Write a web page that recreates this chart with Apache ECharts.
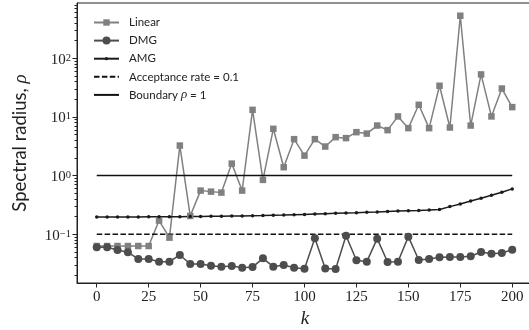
<!DOCTYPE html>
<html><head><meta charset="utf-8">
<script src="https://cdn.jsdelivr.net/npm/echarts@6/dist/echarts.min.js"></script>
<style>html,body{margin:0;padding:0;background:#fff}#c{width:529px;height:330px}</style>
</head><body><div id="c"></div>
<script>
const kValues = [0,5,10,15,20,25,30,35,40,45,50,55,60,65,70,75,80,85,90,95,100,105,110,115,120,125,130,135,140,145,150,155,160,165,170,175,180,185,190,195,200];
const linear = [0.063,0.063,0.063,0.063,0.063,0.063,0.171,0.0875,3.25,0.205,0.555,0.533,0.513,1.6,0.555,13.2,0.845,6.27,1.39,4.18,2.19,4.18,3.13,4.52,4.35,5.5,5.2,7.13,5.95,10.2,6.44,16.1,6.44,34,6.6,531,7.13,53,10.2,30.5,14.7];
const dmg = [0.060,0.060,0.054,0.0493,0.0379,0.0379,0.0341,0.0341,0.0443,0.0311,0.0311,0.0291,0.028,0.0288,0.0269,0.0276,0.0389,0.028,0.0299,0.0269,0.0259,0.0855,0.026,0.0255,0.0946,0.036,0.0341,0.0841,0.0337,0.034,0.091,0.0364,0.0379,0.0405,0.041,0.041,0.0421,0.0499,0.0467,0.048,0.0546];
const amg = [0.196,0.196,0.197,0.197,0.197,0.198,0.198,0.199,0.199,0.200,0.201,0.202,0.203,0.204,0.205,0.207,0.208,0.210,0.212,0.215,0.218,0.221,0.224,0.227,0.230,0.233,0.237,0.240,0.245,0.249,0.252,0.255,0.259,0.265,0.296,0.329,0.37,0.411,0.463,0.52,0.593];
const acceptanceRate = 0.1;
const boundaryRho = 1;
const refRange = [0, 200];
const xTicks = [0,25,50,75,100,125,150,175,200];
const yTicks = [0.1,1,10,100];
const yMinorTicks = [0.02,0.03,0.04,0.05,0.06,0.07,0.08,0.09,0.2,0.3,0.4,0.5,0.6,0.7,0.8,0.9,2,3,4,5,6,7,8,9,20,30,40,50,60,70,80,90,200,300,400,500,600,700,800];
const seriesNames = ['Linear','DMG','AMG','Acceptance rate = 0.1','Boundary ρ = 1'];

const pair = (ys) => kValues.map((k, i) => [k, ys[i]]);
const SERIF = '"Liberation Serif","DejaVu Serif",serif';
const SANS = 'Lato,"Liberation Sans",sans-serif';
const yMin = 0.01476, yMax = 875;

const chart = echarts.init(document.getElementById('c'), null, {renderer: 'canvas'});
const legendTops = [20, 38.1, 56.2, 74.3, 92.4];
const legendHeights = [8, 10, 4, 8, 8];
const legends = seriesNames.map((n, i) => ({
  data: [n], orient: 'vertical', left: 88, top: legendTops[i] - 9.5,
  itemWidth: 25, itemHeight: legendHeights[i], selectedMode: false,
  itemStyle: i >= 3 ? {opacity: 0} : {},
  textStyle: {fontFamily: SANS, fontSize: 11.5, color: '#222', lineHeight: 14, padding: [0,0,0,5],
    rich: {i: {fontFamily: SERIF, fontStyle: 'italic', fontSize: 13, color: '#222'}}},
  formatter: (name) => name.replace('ρ', '{i|ρ}')
}));

chart.setOption({
  animation: false,
  backgroundColor: '#fff',
  grid: {left: 77, top: 3, bottom: 47, right: -4, outerBoundsMode: 'none', containLabel: false,
         show: true, borderColor: '#222', borderWidth: 1, backgroundColor: 'transparent'},
  legend: legends,
  xAxis: {
    type: 'value', min: -9.5, max: 210,
    name: 'k', nameLocation: 'middle', nameGap: 24,
    nameTextStyle: {fontFamily: SERIF, fontStyle: 'italic', fontSize: 19, color: '#222'},
    axisLine: {onZero: false, lineStyle: {color: '#222', width: 1}},
    axisTick: {customValues: xTicks, length: 4.5, lineStyle: {color: '#222'}},
    axisLabel: {customValues: xTicks, margin: 7, fontFamily: SERIF, fontSize: 15, color: '#222'},
    splitLine: {show: false}
  },
  yAxis: [{
    type: 'log', logBase: 10, min: yMin, max: yMax,
    name: 'Spectral radius, {i|ρ}', nameLocation: 'middle', nameGap: 47, nameRotate: 90,
    nameTextStyle: {fontFamily: SANS, fontSize: 18.5, color: '#222',
      rich: {i: {fontFamily: SERIF, fontStyle: 'italic', fontSize: 19, color: '#222'}}},
    axisLine: {show: true, onZero: false, lineStyle: {color: '#222', width: 1}},
    axisTick: {customValues: yTicks, length: 4.5, lineStyle: {color: '#222'}},
    axisLabel: {customValues: yTicks, margin: 6, color: '#222', padding: [3,0,0,0],
      formatter: (v) => { const e = Math.round(Math.log10(v)); return '{b|10}{s|' + (e < 0 ? '\u2212' + (-e) : e) + '}'; },
      rich: {b: {fontFamily: SERIF, fontSize: 15, lineHeight: 15, color: '#222'},
             s: {fontFamily: SERIF, fontSize: 10.5, lineHeight: 8, verticalAlign: 'top', color: '#222'}}},
    splitLine: {show: false}
  }, {
    type: 'log', logBase: 10, min: yMin, max: yMax, position: 'left',
    axisLine: {show: false, onZero: false},
    axisTick: {customValues: yMinorTicks, length: 2.5, lineStyle: {color: '#222'}},
    axisLabel: {show: false},
    splitLine: {show: false}
  }],
  series: [
    {name: seriesNames[0], type: 'line', data: pair(linear), symbol: 'rect', symbolSize: 6.5,
     lineStyle: {color: '#808080', width: 1.5}, itemStyle: {color: '#808080', borderWidth: 0}},
    {name: seriesNames[1], type: 'line', data: pair(dmg), symbol: 'circle', symbolSize: 8,
     lineStyle: {color: '#4d4d4d', width: 1.5}, itemStyle: {color: '#4d4d4d', borderWidth: 0}},
    {name: seriesNames[2], type: 'line', data: pair(amg), symbol: 'circle', symbolSize: 3.5,
     lineStyle: {color: '#1a1a1a', width: 1.5}, itemStyle: {color: '#1a1a1a', borderWidth: 0}},
    {name: seriesNames[3], type: 'line', data: refRange.map(k => [k, acceptanceRate]), symbol: 'none',
     lineStyle: {color: '#111', width: 1.5, type: [5.5, 2.4]}, itemStyle: {color: '#111'}},
    {name: seriesNames[4], type: 'line', data: refRange.map(k => [k, boundaryRho]), symbol: 'none',
     lineStyle: {color: '#111', width: 1.5}, itemStyle: {color: '#111'}}
  ]
});
</script>
</body></html>
